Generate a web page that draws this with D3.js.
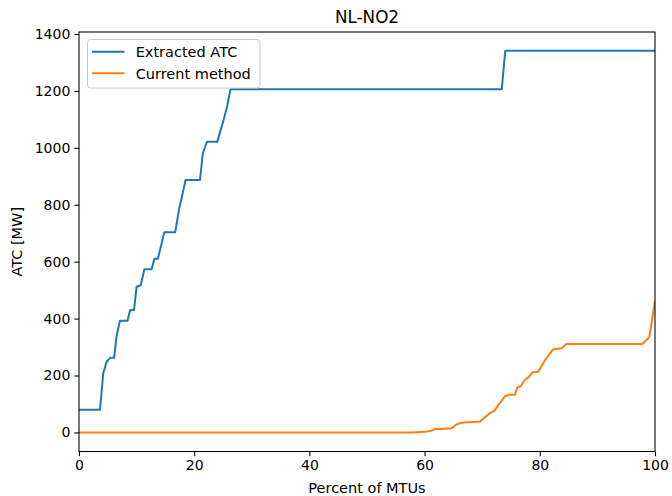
<!DOCTYPE html>
<html><head><meta charset="utf-8">
<script src="https://cdn.jsdelivr.net/npm/d3@7"></script>
<style>body{margin:0;background:#fff}svg{display:block}text{font-family:"DejaVu Sans",sans-serif}</style>
</head><body>
<svg id="c" width="672" height="496"></svg>
<script>
const title = "NL-NO2";
const xLabel = "Percent of MTUs";
const yLabel = "ATC [MW]";
const xTicks = [0, 20, 40, 60, 80, 100];
const yTicks = [0, 200, 400, 600, 800, 1000, 1200, 1400];
const seriesNames = ["Extracted ATC", "Current method"];
const colors = ["#1f77b4", "#ff7f0e"];

const extractedPct = [0, 3.65, 4.2, 4.8, 5.4, 6.1, 6.5, 7.1, 8.4, 8.9, 9.55, 10.0, 10.7, 11.35, 12.6, 13.1, 13.7, 14.8, 16.7, 17.4, 17.8, 18.5, 21.0, 21.5, 22.2, 24.0, 25.1, 25.7, 26.3, 73.4, 74.0, 100];
const extractedATC = [80, 80, 207, 248, 262, 262, 336, 392, 392, 430, 430, 512, 516, 573, 573, 610, 610, 703, 703, 787, 822, 887, 887, 981, 1021, 1021, 1098, 1144, 1206, 1206, 1341, 1341];

const currentPct = [0, 58.0, 60.0, 61.2, 61.7, 64.7, 65.6, 66.4, 67.6, 69.6, 71.4, 72.1, 72.8, 74.0, 74.7, 75.7, 76.1, 76.7, 77.4, 78.0, 78.7, 79.7, 81.0, 82.3, 83.8, 84.6, 97.8, 99.0, 100];
const currentATC = [0, 0, 2, 6, 11, 15, 29, 34, 36, 38, 69, 76, 96, 128, 132, 132, 158, 163, 184, 193, 211, 213, 257, 292, 296, 311, 311, 334, 462];

const svg = d3.select("#c");
const L = 79, R = 655, T = 32, B = 451.5;
const x = d3.scaleLinear().domain([0, 100]).range([L, R]);
const y = d3.scaleLinear().domain([-67, 1407]).range([B, T]);

const g = svg.append("g");
const xAxis = d3.axisBottom(x).tickValues(xTicks).tickFormat(d3.format("d")).tickSize(4.7).tickPadding(4).tickSizeOuter(0);
const yAxis = d3.axisLeft(y).tickValues(yTicks).tickFormat(d3.format("d")).tickSize(4.7).tickPadding(4).tickSizeOuter(0);
const gx = g.append("g").attr("transform", `translate(0,${B})`).call(xAxis);
const gy = g.append("g").attr("transform", `translate(${L},0)`).call(yAxis);
[gx, gy].forEach(a => {
  a.select(".domain").remove();
  a.selectAll("text").attr("font-size", "14px").attr("fill", "#000").style("font-family", "DejaVu Sans, sans-serif");
  a.selectAll("line").attr("stroke", "#000").attr("stroke-width", 1.07);
});

const line = d3.line().x(d => x(d[0])).y(d => y(d[1]));
svg.append("clipPath").attr("id", "cp").append("rect").attr("x", L).attr("y", T).attr("width", R - L).attr("height", B - T);
const data = [d3.zip(extractedPct, extractedATC), d3.zip(currentPct, currentATC)];
data.forEach((d, i) => {
  svg.append("path").datum(d).attr("d", line).attr("fill", "none")
    .attr("stroke", colors[i]).attr("stroke-width", 2).attr("stroke-linejoin", "round").attr("stroke-linecap", "square")
    .attr("clip-path", "url(#cp)");
});

svg.append("rect").attr("x", L).attr("y", T).attr("width", R - L).attr("height", B - T)
  .attr("fill", "none").attr("stroke", "#000").attr("stroke-width", 1.07);

// legend
const lg = svg.append("g");
lg.append("rect").attr("x", 87.5).attr("y", 39.5).attr("width", 172.5).attr("height", 48.5).attr("rx", 3)
  .attr("fill", "#fff").attr("fill-opacity", 0.8).attr("stroke", "#ccc").attr("stroke-width", 1);
seriesNames.forEach((n, i) => {
  const yy = 51.7 + i * 21.6;
  lg.append("line").attr("x1", 92).attr("x2", 124.5).attr("y1", yy).attr("y2", yy)
    .attr("stroke", colors[i]).attr("stroke-width", 2);
  lg.append("text").attr("x", 135.7).attr("y", yy).attr("dy", "0.36em").attr("font-size", "14.5px").text(n);
});

svg.append("text").attr("x", (L + R) / 2).attr("y", 22.5).attr("text-anchor", "middle").attr("font-size", "16.8px").text(title);
svg.append("text").attr("x", (L + R) / 2).attr("y", 493).attr("text-anchor", "middle").attr("font-size", "14.5px").text(xLabel);
svg.append("text").attr("transform", `translate(22,${(T + B) / 2}) rotate(-90)`).attr("text-anchor", "middle").attr("font-size", "14.5px").text(yLabel);
</script>
</body></html>
